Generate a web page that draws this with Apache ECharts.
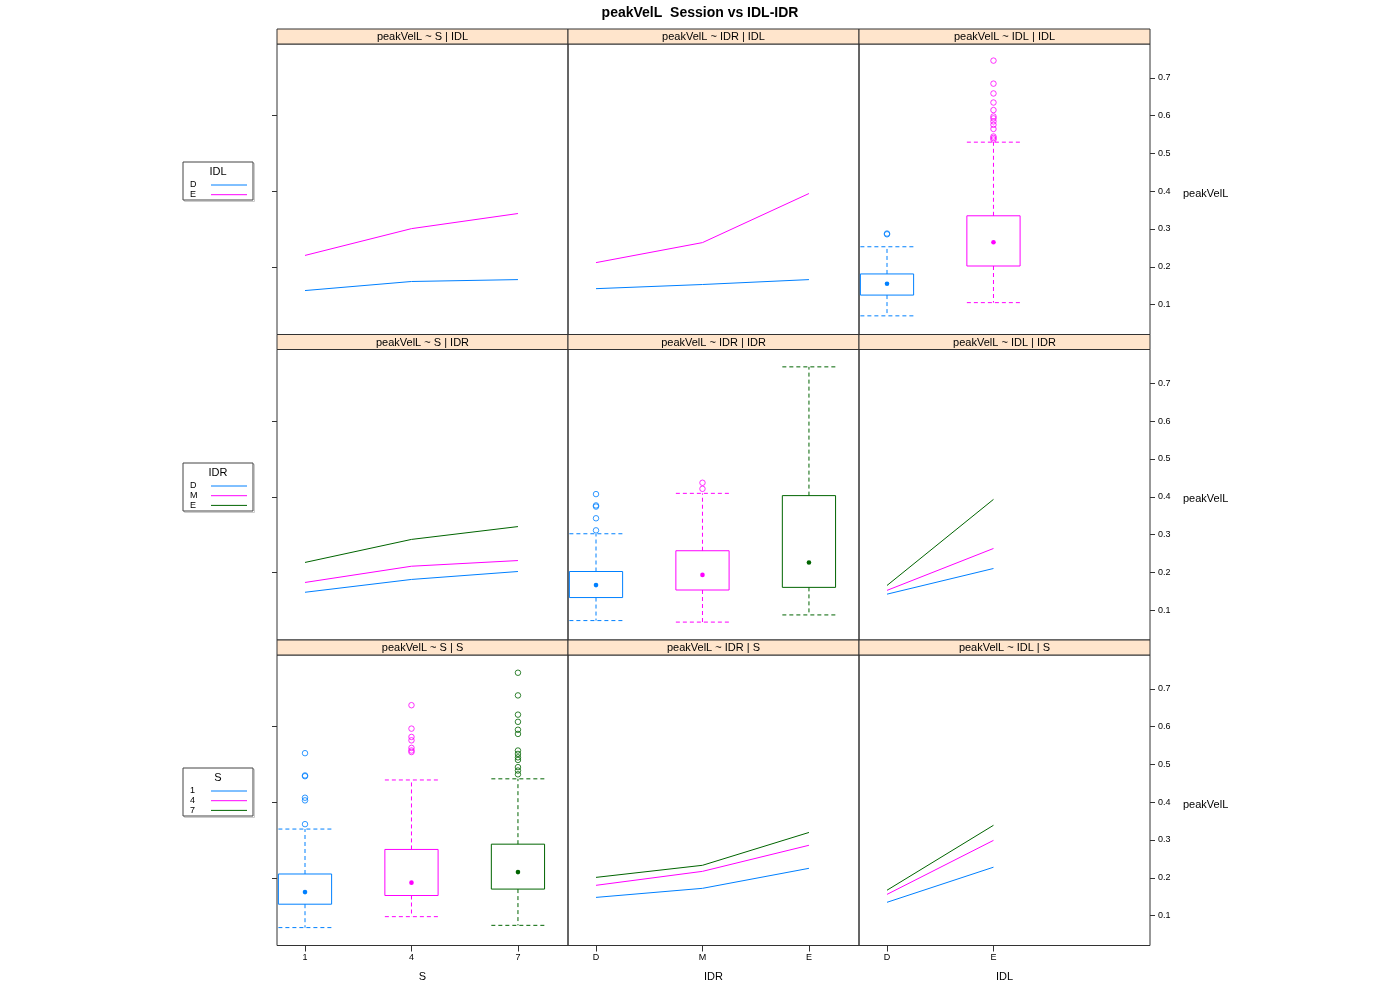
<!DOCTYPE html>
<html><head><meta charset="utf-8">
<script src="https://cdn.jsdelivr.net/npm/echarts@6/dist/echarts.min.js"></script>
<style>html,body{margin:0;padding:0;background:#fff}#c{width:1400px;height:1000px}</style>
</head><body><div id="c"></div>
<script>
// ---------- category levels ----------
const S_levels = ['1', '4', '7'];
const IDR_levels = ['D', 'M', 'E'];
const IDL_levels = ['D', 'E'];
const colVars = ['S', 'IDR', 'IDL'];
const rowVars = ['IDL', 'IDR', 'S'];
const yTickLabels = [0.1, 0.2, 0.3, 0.4, 0.5, 0.6, 0.7];
const yLeftTicks = [0.2, 0.4, 0.6];

// ---------- row 1: conditioned on IDL ----------
const S_IDL_D = [0.137, 0.161, 0.166];
const S_IDL_E = [0.230, 0.301, 0.341];
const IDR_IDL_D = [0.142, 0.153, 0.166];
const IDR_IDL_E = [0.211, 0.264, 0.394];
// box stats: [lower whisker, Q1, median, Q3, upper whisker]
const box_IDL_D = [0.070, 0.125, 0.155, 0.181, 0.253];
const box_IDL_E = [0.105, 0.202, 0.265, 0.335, 0.530];
const out_IDL_D = [0.286, 0.288];
const out_IDL_E = [0.746, 0.685, 0.659, 0.635, 0.615, 0.598, 0.593, 0.585, 0.576, 0.565, 0.545, 0.541, 0.537];

// ---------- row 2: conditioned on IDR ----------
const S_IDR_D = [0.147, 0.181, 0.202];
const S_IDR_M = [0.173, 0.216, 0.231];
const S_IDR_E = [0.226, 0.287, 0.321];
const box_IDR_D = [0.072, 0.133, 0.166, 0.202, 0.302];
const box_IDR_M = [0.068, 0.153, 0.193, 0.257, 0.409];
const box_IDR_E = [0.087, 0.160, 0.226, 0.403, 0.744];
const out_IDR_D = [0.407, 0.377, 0.374, 0.343, 0.311];
const out_IDR_M = [0.437, 0.421];
const out_IDR_E = [];
const IDL_IDR_D = [0.142, 0.210];
const IDL_IDR_M = [0.152, 0.263];
const IDL_IDR_E = [0.165, 0.393];

// ---------- row 3: conditioned on S ----------
const box_S_1 = [0.068, 0.130, 0.162, 0.210, 0.329];
const box_S_4 = [0.097, 0.153, 0.187, 0.275, 0.459];
const box_S_7 = [0.074, 0.170, 0.215, 0.289, 0.462];
const out_S_1 = [0.530, 0.471, 0.469, 0.412, 0.405, 0.342];
const out_S_4 = [0.657, 0.595, 0.573, 0.564, 0.544, 0.537, 0.533];
const out_S_7 = [0.743, 0.683, 0.632, 0.613, 0.592, 0.581, 0.537, 0.528, 0.519, 0.512, 0.493, 0.484, 0.474];
const IDR_S_1 = [0.148, 0.172, 0.225];
const IDR_S_4 = [0.180, 0.217, 0.286];
const IDR_S_7 = [0.201, 0.233, 0.320];
const IDL_S_1 = [0.135, 0.228];
const IDL_S_4 = [0.156, 0.299];
const IDL_S_7 = [0.167, 0.339];

// ---------- styling / layout ----------
const COLORS = ['#0080ff', '#ff00ff', '#006400'];
const FONT = 'Liberation Sans, Arial, sans-serif';
const colLeft = [277, 568, 859];
const PW = 291;
const stripTop = [29, 334.5, 640];
const STRIP_H = 15;
const PH = 290.5;
const XMIN = 0.737, XMAX = 3.47;
const YMIN = 0.0206, YMAX = 0.790;

const colLevels = [S_levels, IDR_levels, IDL_levels];
const rowLevels = [IDL_levels, IDR_levels, S_levels];

const panels = [
  {r: 0, c: 0, lines: [S_IDL_D, S_IDL_E]},
  {r: 0, c: 1, lines: [IDR_IDL_D, IDR_IDL_E]},
  {r: 0, c: 2, boxes: [box_IDL_D, box_IDL_E], outs: [out_IDL_D, out_IDL_E]},
  {r: 1, c: 0, lines: [S_IDR_D, S_IDR_M, S_IDR_E]},
  {r: 1, c: 1, boxes: [box_IDR_D, box_IDR_M, box_IDR_E], outs: [out_IDR_D, out_IDR_M, out_IDR_E]},
  {r: 1, c: 2, lines: [IDL_IDR_D, IDL_IDR_M, IDL_IDR_E]},
  {r: 2, c: 0, boxes: [box_S_1, box_S_4, box_S_7], outs: [out_S_1, out_S_4, out_S_7]},
  {r: 2, c: 1, lines: [IDR_S_1, IDR_S_4, IDR_S_7]},
  {r: 2, c: 2, lines: [IDL_S_1, IDL_S_4, IDL_S_7]}
];

function boxRender(params, api) {
  const x = api.value(0);
  const p = [1, 2, 3, 4, 5].map(i => api.coord([x, api.value(i)]));
  const c = api.visual('color');
  const hw = api.size([0.5, 0])[0] / 2;
  const cx = p[0][0];
  const dash = {stroke: c, lineWidth: 1, lineDash: [4, 3], fill: null};
  return {type: 'group', children: [
    {type: 'line', shape: {x1: cx, y1: p[3][1], x2: cx, y2: p[4][1]}, style: dash},
    {type: 'line', shape: {x1: cx - hw, y1: p[4][1], x2: cx + hw, y2: p[4][1]}, style: dash},
    {type: 'line', shape: {x1: cx, y1: p[1][1], x2: cx, y2: p[0][1]}, style: dash},
    {type: 'line', shape: {x1: cx - hw, y1: p[0][1], x2: cx + hw, y2: p[0][1]}, style: dash},
    {type: 'rect', shape: {x: cx - hw, y: p[3][1], width: 2 * hw, height: p[1][1] - p[3][1]},
      style: {stroke: c, fill: null, lineWidth: 1}},
    {type: 'circle', shape: {cx: cx, cy: p[2][1], r: 2.3}, style: {fill: c, stroke: null}}
  ]};
}

const grids = [], xAxes = [], yAxes = [], series = [], graphics = [];

panels.forEach((pn, gi) => {
  const left = colLeft[pn.c], top = stripTop[pn.r] + STRIP_H;
  grids.push({left: left, top: top, width: PW, height: PH, show: true,
    borderColor: '#333', borderWidth: 1, backgroundColor: 'transparent',
    containLabel: false, outerBoundsMode: 'none'});
  const levels = colLevels[pn.c];
  const bottom = pn.r === 2;
  const tickVals = levels.map((_, i) => i + 1);
  xAxes.push({type: 'value', gridIndex: gi, min: XMIN, max: XMAX,
    axisLine: {show: false}, splitLine: {show: false},
    axisTick: {show: bottom, length: 6, customValues: tickVals, lineStyle: {color: '#333'}},
    axisLabel: {show: bottom, customValues: tickVals, fontSize: 9, margin: 8, color: '#000', fontFamily: FONT,
      formatter: v => levels[Math.round(v) - 1] || ''},
    name: bottom ? colVars[pn.c] : '', nameLocation: 'middle', nameGap: 26,
    nameTextStyle: {fontSize: 11, color: '#000', fontFamily: FONT}});
  const isLeft = pn.c === 0, isRight = pn.c === 2;
  yAxes.push({type: 'value', gridIndex: gi, min: YMIN, max: YMAX,
    position: isRight ? 'right' : 'left',
    axisLine: {show: false}, splitLine: {show: false},
    axisTick: {show: isLeft || isRight, length: 5, customValues: isRight ? yTickLabels : yLeftTicks,
      lineStyle: {color: '#333'}},
    axisLabel: {show: isRight, customValues: yTickLabels, fontSize: 9, margin: 8, color: '#000',
      fontFamily: FONT, formatter: v => v.toFixed(1)}});
  // strip
  graphics.push({type: 'rect', shape: {x: left, y: stripTop[pn.r], width: PW, height: STRIP_H},
    style: {fill: '#ffe5cc', stroke: '#333', lineWidth: 1}, z: 10});
  graphics.push({type: 'text', x: left + PW / 2, y: stripTop[pn.r] + STRIP_H / 2 + 0.5, z: 11,
    style: {text: 'peakVelL ~ ' + colVars[pn.c] + ' | ' + rowVars[pn.r], fontSize: 11, fontFamily: FONT,
      fill: '#000', align: 'center', verticalAlign: 'middle'}});
  if (pn.lines) {
    pn.lines.forEach((vals, k) => {
      series.push({type: 'line', xAxisIndex: gi, yAxisIndex: gi, showSymbol: false, symbol: 'none',
        silent: true, color: COLORS[k], lineStyle: {width: 1, color: COLORS[k]},
        data: vals.map((v, i) => [i + 1, v])});
    });
  } else {
    pn.boxes.forEach((b, k) => {
      series.push({type: 'custom', xAxisIndex: gi, yAxisIndex: gi, renderItem: boxRender, silent: true,
        itemStyle: {color: COLORS[k]}, data: [[k + 1].concat(b)], z: 3});
      series.push({type: 'scatter', xAxisIndex: gi, yAxisIndex: gi, symbol: 'circle', symbolSize: 5.5,
        silent: true, itemStyle: {color: 'rgba(255,255,255,0)', borderColor: COLORS[k], borderWidth: 1},
        data: pn.outs[k].map(v => [k + 1, v]), z: 4});
    });
  }
});

// legends and right-side y labels per row
const legendBox = [[183, 162, 70, 38], [183, 463, 70, 48], [183, 768, 70, 48]];
rowLevels.forEach((lv, r) => {
  const [bx, by, bw, bh] = legendBox[r];
  graphics.push({type: 'rect', shape: {x: bx + 1.5, y: by + 1.5, width: bw, height: bh},
    style: {fill: null, stroke: '#ccc', lineWidth: 1}});
  graphics.push({type: 'rect', shape: {x: bx, y: by, width: bw, height: bh},
    style: {fill: '#fff', stroke: '#444', lineWidth: 1}});
  graphics.push({type: 'text', x: bx + bw / 2, y: by + 10, style: {text: rowVars[r], fontSize: 11,
    fontFamily: FONT, fill: '#000', align: 'center', verticalAlign: 'middle'}});
  const y0 = by + 23;
  lv.forEach((name, k) => {
    const yy = y0 + k * 9.7;
    graphics.push({type: 'text', x: bx + 7, y: yy, style: {text: name, fontSize: 9, fontFamily: FONT,
      fill: '#000', align: 'left', verticalAlign: 'middle'}});
    graphics.push({type: 'line', shape: {x1: bx + 28, y1: yy, x2: bx + 64, y2: yy},
      style: {stroke: COLORS[k], lineWidth: 1}});
  });
  graphics.push({type: 'text', x: 1183, y: [194, 499, 805][r], style: {text: 'peakVelL', fontSize: 11,
    fontFamily: FONT, fill: '#000', align: 'left', verticalAlign: 'middle'}});
});

const chart = echarts.init(document.getElementById('c'), null, {renderer: 'canvas'});
chart.setOption({
  animation: false,
  backgroundColor: '#fff',
  title: {text: 'peakVelL  Session vs IDL-IDR', left: 'center', top: 1,
    textStyle: {fontSize: 14, fontWeight: 'bold', fontFamily: FONT, color: '#000'}},
  grid: grids, xAxis: xAxes, yAxis: yAxes, series: series, graphic: graphics
});
</script></body></html>
